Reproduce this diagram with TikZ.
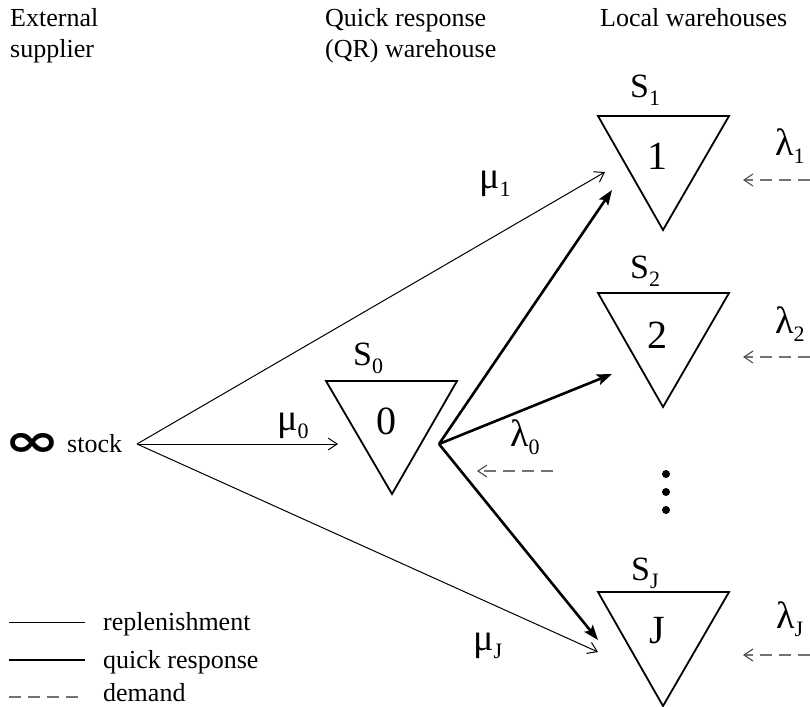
\documentclass[tikz,border=0pt]{standalone}
\usepackage{fontspec}
\setmainfont{Liberation Serif}
\newfontfamily\djv{DejaVu Sans}
\usetikzlibrary{arrows.meta}
\newcommand\fsz[1]{\fontsize{#1}{#1}\selectfont}
\newcommand\sublab[3]{{\fsz{#1}#2}\raisebox{-8pt}{\fsz{22}#3}}
\begin{document}
\begin{tikzpicture}[x=1pt,y=-1pt,
  repl/.style={line width=1pt,-{Straight Barb[length=9pt,width=12pt]}},
  qresp/.style={line width=2.6pt,-{Stealth[length=15pt,width=11pt,inset=3pt]}},
  dem/.style={line width=1.1pt,draw=black!55,dash pattern=on 12pt off 7pt,-{Straight Barb[length=9pt,width=12pt,color=black!70]}},
  tri/.style={line width=1.8pt,line join=miter},
  txt/.style={font=\fsz{26},inner sep=0pt,anchor=base west},
  lab/.style={inner sep=0pt,anchor=base west},
  num/.style={inner sep=0pt,anchor=base,font=\fsz{40}},
  symb/.style={inner sep=0pt,font=\djv\bfseries\fsz{48}},
  dot/.style={fill=black}]
\useasboundingbox (0,0) rectangle (810,706);
% headers
\node[txt] (h1) at (10,27) {External};
\node[txt] (h1b) at (10,58) {supplier};
\node[txt] (h2) at (325,27) {Quick response};
\node[txt] (h2b) at (325,58) {(QR) warehouse};
\node[txt] (h3) at (600,27) {Local warehouses};
% triangles
\draw[tri] (326,381) -- (457,381) -- (392,494) -- cycle;
\draw[tri] (598,116) -- (729,116) -- (663,230) -- cycle;
\draw[tri] (598,293) -- (729,293) -- (663,407) -- cycle;
\draw[tri] (598,592) -- (729,592) -- (663,706) -- cycle;
% numbers
\node[num] (n0) at (386,434) {0};
\node[num] (n1) at (657,169) {1};
\node[num] (n2) at (657,348) {2};
\node[num] (nJ) at (657,643) {J};
% S labels
\node[lab] (s0) at (353,365) {\sublab{34}{S}{0}};
\node[lab] (s1) at (630,98) {\sublab{34}{S}{1}};
\node[lab] (s2) at (630,278) {\sublab{34}{S}{2}};
\node[lab] (sJ) at (631,580) {\sublab{34}{S}{J}};
% lambda labels
\node[lab] (l0) at (510,446) {\sublab{38}{λ}{0}};
\node[lab] (l1) at (775,155) {\sublab{38}{λ}{1}};
\node[lab] (l2) at (775,333) {\sublab{38}{λ}{2}};
\node[lab] (lJ) at (776,628) {\sublab{38}{λ}{J}};
% mu labels
\node[lab] (m0) at (277,430) {\sublab{38}{μ}{0}};
\node[lab] (m1) at (479,188) {\sublab{38}{μ}{1}};
\node[lab] (mJ) at (473,650) {\sublab{38}{μ}{J}};
% stock
\node[symb] (infsym) at (32.5,445) {\scalebox{1.4}[0.95]{∞}};
\node[txt] (stock) at (67,452) {stock};
% connector points
\coordinate (src) at (137,444);
\coordinate (qr) at (439,444);
\coordinate (e0) at (338,444);
\coordinate (r1) at (605,172);
\coordinate (rJ) at (598,652);
\coordinate (q1) at (612,190);
\coordinate (q2) at (612,374);
\coordinate (qJ) at (598,640);
% replenishment
\draw[repl] (src) -- (e0);
\draw[repl] (src) -- (r1);
\draw[repl] (src) -- (rJ);
% quick response
\draw[qresp] (qr) -- (q1);
\draw[qresp] (qr) -- (q2);
\draw[qresp] (qr) -- (qJ);
% demand
\coordinate (d0a) at (553,471); \coordinate (d0b) at (477,471);
\coordinate (d1a) at (810,180); \coordinate (d1b) at (743,180);
\coordinate (d2a) at (810,357); \coordinate (d2b) at (743,357);
\coordinate (dJa) at (810,655); \coordinate (dJb) at (743,655);
\draw[dem] (d0a) -- (d0b);
\draw[dem] (d1a) -- (d1b);
\draw[dem] (d2a) -- (d2b);
\draw[dem] (dJa) -- (dJb);
% dots
\fill[dot] (666,474) circle (4);
\fill[dot] (666,492) circle (4);
\fill[dot] (666,510) circle (4);
% legend
\coordinate (la1) at (9,622); \coordinate (lb1) at (85,622);
\coordinate (la2) at (9,660); \coordinate (lb2) at (85,660);
\coordinate (la3) at (9,697); \coordinate (lb3) at (85,697);
\draw[line width=1pt] (la1) -- (lb1);
\draw[line width=2.6pt] (la2) -- (lb2);
\draw[line width=1.1pt,draw=black!55,dash pattern=on 12pt off 7pt] (la3) -- (lb3);
\node[txt] (t1) at (103,630) {replenishment};
\node[txt] (t2) at (103,668) {quick response};
\node[txt] (t3) at (103,701) {demand};
\end{tikzpicture}
\end{document}
